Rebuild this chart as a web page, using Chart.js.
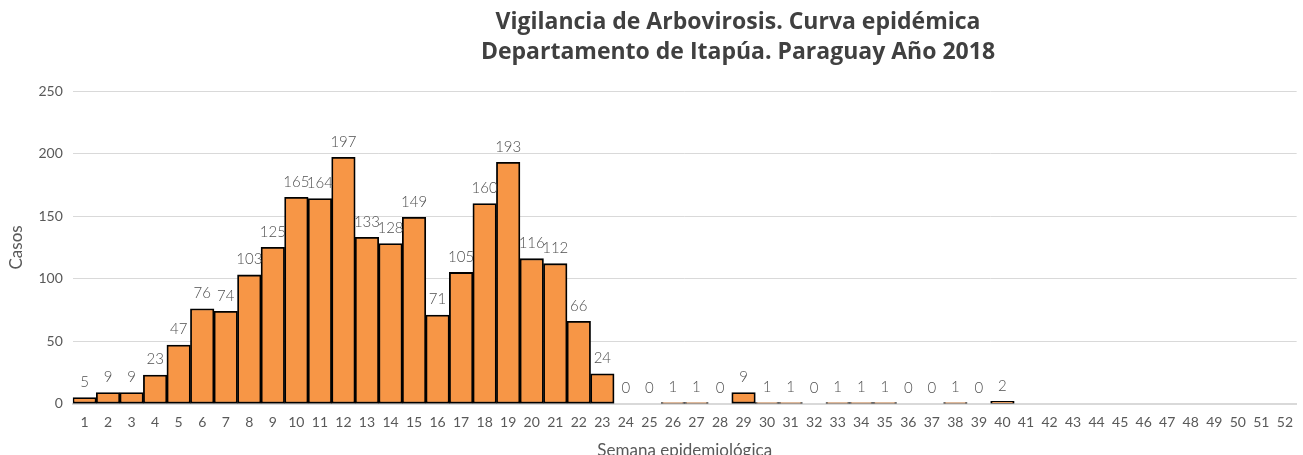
<!DOCTYPE html>
<html>
<head>
<meta charset="utf-8">
<script src="https://cdn.jsdelivr.net/npm/chart.js@4"></script>
<style>
  html, body { margin: 0; padding: 0; background: #fff; }
  #wrap { width: 1303px; height: 455px; }
</style>
</head>
<body>
<div id="wrap"><canvas id="curva"></canvas></div>
<script>
// semanas epidemiologicas 1..52
const semanas = Array.from({ length: 52 }, (_, i) => String(i + 1));
// casos por semana (41-52 sin dato)
const casos = [5, 9, 9, 23, 47, 76, 74, 103, 125, 165, 164, 197, 133, 128, 149, 71, 105, 160, 193, 116,
  112, 66, 24, 0, 0, 1, 1, 0, 9, 1, 1, 0, 1, 1, 1, 0, 0, 1, 0, 2,
  null, null, null, null, null, null, null, null, null, null, null, null];
const titulo = ['Vigilancia de Arbovirosis. Curva epidémica', 'Departamento de Itapúa. Paraguay Año 2018'];

const gris = '#595959';

// etiquetas de valor encima de cada barra
const etiquetas = {
  id: 'etiquetas',
  afterDatasetsDraw(chart) {
    const ctx = chart.ctx;
    const meta = chart.getDatasetMeta(0);
    ctx.save();
    ctx.font = '300 15px Lato';
    ctx.fillStyle = '#505050';
    ctx.textAlign = 'center';
    ctx.textBaseline = 'bottom';
    meta.data.forEach((bar, i) => {
      const v = casos[i];
      if (v === null) return;
      ctx.fillText(String(v), bar.x, bar.y - 8);
    });
    ctx.restore();
  }
};

// titulo centrado sobre el area de trazado (como en Excel)
const tituloPlugin = {
  id: 'tituloPlugin',
  afterDraw(chart) {
    const ctx = chart.ctx;
    ctx.save();
    ctx.font = 'bold 23px "Open Sans"';
    ctx.fillStyle = '#404040';
    ctx.textAlign = 'center';
    ctx.textBaseline = 'middle';
    ctx.fillText(titulo[0], 738, 22);
    ctx.fillText(titulo[1], 738, 52);
    ctx.restore();
  }
};

new Chart(document.getElementById('curva'), {
  type: 'bar',
  data: {
    labels: semanas,
    datasets: [{
      label: 'Casos',
      data: casos,
      backgroundColor: '#F79646',
      borderColor: '#000000',
      borderWidth: 1.8,
      borderSkipped: false,
      barPercentage: 1,
      categoryPercentage: 1
    }]
  },
  options: {
    responsive: true,
    maintainAspectRatio: false,
    animation: false,
    layout: { padding: { top: 91, right: 0, left: 4, bottom: -8 } },
    plugins: {
      legend: { display: false },
      tooltip: { enabled: false }
    },
    scales: {
      x: {
        grid: { display: false, drawTicks: false },
        border: { color: '#d9d9d9', width: 2 },
        ticks: { color: gris, font: { family: 'Lato', size: 14 }, padding: 10, maxRotation: 0, autoSkip: false },
        title: { display: true, text: 'Semana epidemiológica', color: gris, font: { family: 'Lato', size: 17 }, padding: { top: 0, bottom: 2 } }
      },
      y: {
        min: 0,
        max: 250,
        ticks: { stepSize: 50, color: gris, font: { family: 'Lato', size: 14 }, padding: 10 },
        grid: { color: '#d9d9d9', drawTicks: false },
        border: { display: false },
        title: { display: true, text: 'Casos', color: gris, font: { family: 'Lato', size: 17 }, padding: 2 }
      }
    }
  },
  plugins: [etiquetas, tituloPlugin]
});
</script>
</body>
</html>
